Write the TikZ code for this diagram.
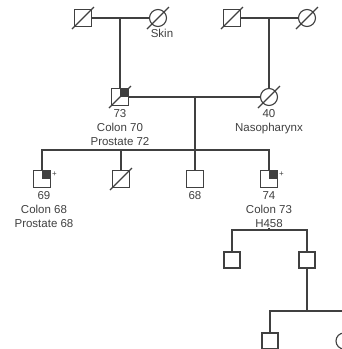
\documentclass[tikz,border=0pt]{standalone}
\usepackage{fontspec}
\setmainfont{Liberation Sans}
\usetikzlibrary{positioning}
\tikzset{
  male/.style={draw,rectangle,minimum size=17pt,inner sep=0pt,fill=white},
  female/.style={draw,circle,minimum size=17pt,inner sep=0pt,fill=white},
  lab/.style={align=center,inner sep=0pt,font=\fontsize{11.5}{14}\selectfont},
  plus/.style={inner sep=0.5pt,anchor=west,font=\fontsize{8}{8}\selectfont},
}
\newcommand{\dead}[1]{\draw (#1.center) ++(-11,11) -- ++(22,-22);}
\newcommand{\quadfill}[1]{\fill (#1.center) rectangle (#1.north east);}
\begin{document}
\begin{tikzpicture}[x=1pt,y=-1pt,line width=1.1pt,color=black!75,line cap=butt]
\clip (0,0) rectangle (342,349);
\node[male] (gfa) at (83,18) {};
\node[female] (gma) at (158,18) {};
\node[male] (gfb) at (232,18) {};
\node[female] (gmb) at (307,18) {};
\node[male] (fa) at (120,97) {};
\node[female] (mo) at (269,97) {};
\node[male] (c1) at (42,179) {};
\node[male] (c2) at (121,179) {};
\node[male] (c3) at (195,179) {};
\node[male] (c4) at (269,179) {};
\node[male,minimum size=16pt] (g1) at (232,260) {};
\node[male,minimum size=16pt] (g2) at (307,260) {};
\node[male,minimum size=16pt] (h1) at (270,341) {};
\node[female,minimum size=16pt] (h2) at (344,341) {};
\coordinate (ma) at (120,18);
\coordinate (mb) at (269,18);
\coordinate (mc) at (195,97);
\coordinate (sa) at (195,150);
\coordinate (sb) at (269,230);
\coordinate (sc) at (307,311);
\node[lab,below=2pt of gma,xshift=4pt] (lsk) {Skin};
\node[lab,below=2.5pt of fa] (lfa) {73\\Colon 70\\Prostate 72};
\node[lab,below=2.5pt of mo] (lmo) {40\\Nasopharynx};
\node[lab,below=2.5pt of c1,xshift=2pt] (lc1) {69\\Colon 68\\Prostate 68};
\node[lab,below=2.5pt of c3] (lc3) {68};
\node[lab,below=2.5pt of c4] (lc4) {74\\Colon 73\\H458};
\node[plus,yshift=5pt] (p1) at (c1.east) {+};
\node[plus,yshift=5pt] (p4) at (c4.east) {+};
\draw (gfa) -- (gma);
\draw (ma) -- (fa);
\draw (gfb) -- (gmb);
\draw (mb) -- (mo);
\draw (fa) -- (mo);
\draw (mc) -- (sa);
\draw (c1) |- (sa) -| (c4);
\draw (c2) -- (c2 |- sa);
\draw (c3) -- (sa);
\draw (lc4) -- (sb);
\draw (g1) |- (sb) -| (g2);
\draw (g2) -- (sc);
\draw (h1) |- (sc) -| (h2);
\quadfill{fa}
\quadfill{c1}
\quadfill{c4}
\dead{gfa}
\dead{gma}
\dead{gfb}
\dead{gmb}
\dead{fa}
\dead{mo}
\dead{c2}
\end{tikzpicture}
\end{document}
